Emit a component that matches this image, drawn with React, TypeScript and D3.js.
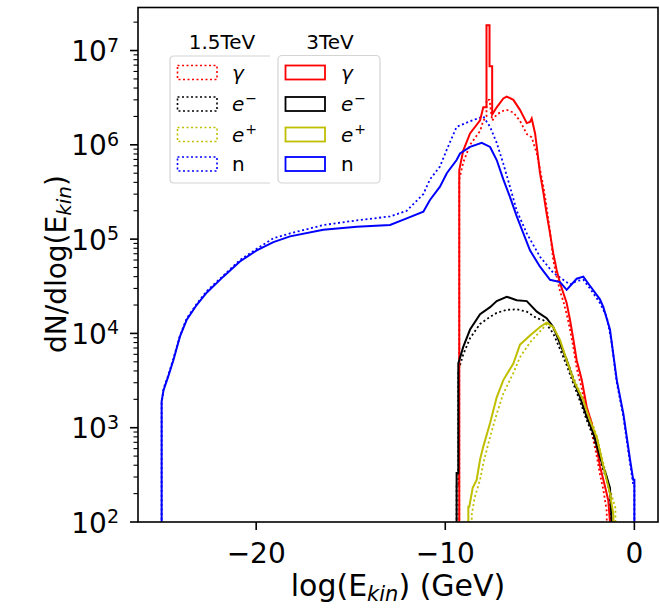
import React from 'react';
import * as d3 from 'd3';

type Pt = [number, number];

// ---- data (x = log(E_kin/GeV), y = dN/dlog(E_kin)) ----
const gamma3TeV: Pt[] = [
  [-9.26, 10], [-9.26, 5.4e5], [-9.05, 8.7e5], [-8.69, 1.32e6], [-8.16, 1.82e6], [-7.99, 2.5e6],
  [-7.82, 2.5e6], [-7.82, 1.85e7], [-7.66, 1.85e7], [-7.66, 6.8e6], [-7.52, 6.8e6], [-7.52, 2.1e6],
  [-7.28, 2.5e6], [-6.93, 3.1e6], [-6.75, 3.25e6], [-6.4, 3.0e6], [-6.05, 2.35e6], [-5.69, 1.7e6],
  [-5.52, 1.75e6], [-5.43, 1.9e6], [-5.25, 1.32e6], [-5.16, 9.5e5], [-4.99, 5.0e5], [-4.81, 3.1e5],
  [-4.64, 1.86e5], [-4.46, 1.15e5], [-4.29, 7.1e4], [-4.11, 4.7e4], [-3.93, 3.4e4], [-3.76, 2.7e4],
  [-3.58, 2.1e4], [-3.4, 1.38e4], [-3.22, 8500], [-3.05, 5200], [-2.78, 3200], [-2.52, 1660],
  [-2.26, 1120], [-1.99, 630], [-1.82, 390], [-1.64, 280], [-1.38, 170], [-1.29, 100], [-1.29, 10],
];
const gamma15TeV: Pt[] = [
  [-9.26, 10], [-9.26, 4.3e5], [-9.05, 6.5e5], [-8.69, 1.0e6], [-8.16, 1.4e6], [-7.99, 1.8e6],
  [-7.82, 2.0e6], [-7.82, 3.0e6], [-7.66, 3.0e6], [-7.52, 1.8e6], [-7.28, 2.1e6], [-6.93, 2.3e6],
  [-6.75, 2.35e6], [-6.4, 2.2e6], [-6.05, 1.8e6], [-5.69, 1.3e6], [-5.43, 1.2e6], [-5.16, 8.1e5],
  [-4.99, 5.5e5], [-4.81, 3.6e5], [-4.64, 2.2e5], [-4.46, 1.2e5], [-4.29, 6.0e4], [-4.11, 4.0e4],
  [-3.93, 2.8e4], [-3.76, 2.2e4], [-3.58, 1.6e4], [-3.4, 1.1e4], [-3.22, 7000], [-3.05, 4300],
  [-2.78, 2600], [-2.52, 1400], [-2.26, 900], [-1.99, 500], [-1.82, 320], [-1.64, 220],
  [-1.46, 130], [-1.46, 10],
];
const electron3TeV: Pt[] = [
  [-9.4, 10], [-9.4, 330], [-9.31, 330], [-9.31, 4800], [-9.05, 7200], [-8.69, 1.1e4], [-8.16, 1.6e4],
  [-7.63, 1.9e4], [-7.28, 2.2e4], [-6.75, 2.45e4], [-6.22, 2.25e4], [-5.69, 2.2e4], [-5.16, 1.7e4],
  [-4.64, 1.45e4], [-4.29, 1.17e4], [-3.93, 7800], [-3.58, 5200], [-3.22, 3200], [-2.87, 2100],
  [-2.52, 1300], [-2.17, 870], [-1.82, 490], [-1.46, 300], [-1.29, 230], [-1.2, 100], [-1.2, 10],
];
const electron15TeV: Pt[] = [
  [-9.4, 10], [-9.4, 250], [-9.31, 250], [-9.31, 4000], [-9.05, 6000], [-8.69, 8900], [-8.16, 1.26e4],
  [-7.63, 1.5e4], [-7.28, 1.65e4], [-6.75, 1.78e4], [-6.22, 1.8e4], [-5.69, 1.7e4], [-5.16, 1.45e4],
  [-4.81, 1.38e4], [-4.64, 1.25e4], [-4.29, 1.0e4], [-3.93, 6800], [-3.58, 4600], [-3.22, 2900],
  [-2.87, 1900], [-2.52, 1200], [-2.17, 800], [-1.82, 450], [-1.46, 280], [-1.29, 200], [-1.2, 10],
];
const positron3TeV: Pt[] = [
  [-8.78, 10], [-8.78, 145], [-8.73, 145], [-8.55, 230], [-8.34, 280], [-8.16, 460], [-7.99, 630],
  [-7.63, 1120], [-7.28, 2100], [-6.93, 3200], [-6.4, 4800], [-6.05, 7600], [-5.52, 9500],
  [-4.99, 1.17e4], [-4.64, 1.3e4], [-4.29, 1.17e4], [-3.93, 8500], [-3.58, 5200], [-3.22, 3200],
  [-2.7, 1950], [-2.35, 1200], [-1.99, 790], [-1.64, 390], [-1.29, 200], [-1.11, 120], [-1.11, 10],
];
const positron15TeV: Pt[] = [
  [-8.6, 10], [-8.6, 120], [-8.45, 180], [-8.16, 280], [-7.99, 420], [-7.63, 800], [-7.28, 1400],
  [-6.93, 2300], [-6.4, 3800], [-6.05, 5600], [-5.52, 8000], [-4.99, 1.05e4], [-4.64, 1.25e4],
  [-4.46, 1.2e4], [-4.29, 1.12e4], [-3.93, 8200], [-3.58, 5400], [-3.22, 3400], [-2.7, 2000],
  [-2.35, 1300], [-1.99, 820], [-1.64, 420], [-1.29, 220], [-1.0, 140], [-1.0, 10],
];
const neutron3TeV: Pt[] = [
  [-25.0, 10], [-25.0, 1900], [-24.9, 2500], [-24.65, 3500], [-24.38, 5200], [-24.03, 9300],
  [-23.67, 1.4e4], [-23.15, 2.0e4], [-22.62, 2.7e4], [-21.74, 4.0e4], [-20.86, 5.8e4], [-19.97, 7.6e4],
  [-19.09, 9.3e4], [-18.21, 1.07e5], [-16.45, 1.26e5], [-14.68, 1.35e5], [-12.92, 1.41e5],
  [-12.04, 1.66e5], [-11.16, 1.95e5], [-10.81, 2.6e5], [-10.28, 3.6e5], [-9.92, 5.0e5], [-9.4, 6.9e5],
  [-9.22, 8.1e5], [-8.69, 9.5e5], [-8.07, 1.05e6], [-7.63, 9.5e5], [-7.28, 6.9e5], [-6.93, 4.3e5],
  [-6.58, 2.8e5], [-6.22, 1.74e5], [-5.87, 1.15e5], [-5.52, 7.6e4], [-4.99, 5.1e4], [-4.46, 3.7e4],
  [-3.93, 3.5e4], [-3.58, 2.9e4], [-3.05, 3.8e4], [-2.7, 4.0e4], [-2.35, 3.2e4], [-1.82, 2.3e4],
  [-1.64, 1.9e4], [-1.29, 1.1e4], [-0.93, 3200], [-0.58, 1400], [-0.23, 460], [-0.06, 280],
  [0, 280], [0, 10],
];
const neutron15TeV: Pt[] = [
  [-25.0, 10], [-25.0, 1800], [-24.9, 2600], [-24.65, 3600], [-24.38, 5400], [-24.03, 9500],
  [-23.67, 1.45e4], [-23.15, 2.05e4], [-22.62, 2.8e4], [-21.74, 4.1e4], [-20.86, 6.0e4], [-19.97, 7.9e4],
  [-19.09, 1.02e5], [-18.21, 1.15e5], [-16.45, 1.41e5], [-14.68, 1.58e5], [-12.92, 1.74e5],
  [-12.04, 2.0e5], [-11.16, 3.0e5], [-10.81, 4.3e5], [-10.28, 5.9e5], [-9.92, 8.9e5], [-9.4, 1.55e6],
  [-8.69, 1.78e6], [-7.99, 2.0e6], [-7.63, 1.55e6], [-7.28, 1.05e6], [-6.93, 6.3e5], [-6.58, 3.6e5],
  [-6.22, 2.0e5], [-5.69, 1.15e5], [-4.99, 6.5e4], [-4.29, 4.4e4], [-3.76, 3.7e4], [-3.4, 3.3e4],
  [-3.05, 3.6e4], [-2.7, 3.7e4], [-2.35, 3.0e4], [-1.82, 2.1e4], [-1.46, 1.5e4], [-1.2, 8000],
  [-0.93, 3000], [-0.58, 1300], [-0.23, 420], [-0.06, 250], [0, 250], [0, 10],
];

const xTicks = [-20, -10, 0];
const xTickLabels = ['\u221220', '\u221210', '0'];
const yTickExps = [2, 3, 4, 5, 6, 7];
const legendLabels = ['gamma', 'eminus', 'eplus', 'n'];
const legendTitles = ['1.5TeV', '3TeV'];

const FONT = 'DejaVu Sans, Verdana, sans-serif';
const RED = '#ff0000';
const BLACK = '#000000';
const YELLOW = '#bfbf00';
const BLUE = '#0000ff';

const LEFT = 138, RIGHT = 658, TOP = 7.5, BOTTOM = 522;

function LegendLabel({ kind, x, y }: { kind: string; x: number; y: number }) {
  const fs = 20;
  if (kind === 'gamma') {
    return <text x={x} y={y} fontSize={fs} fontFamily={FONT} fontStyle="italic">γ</text>;
  }
  if (kind === 'n') {
    return <text x={x} y={y} fontSize={fs} fontFamily={FONT}>n</text>;
  }
  const sup = kind === 'eminus' ? '\u2212' : '+';
  return (
    <text x={x} y={y} fontSize={fs} fontFamily={FONT}>
      <tspan fontStyle="italic">e</tspan>
      <tspan fontSize={14} dy={-8} dx={1}>{sup}</tspan>
    </text>
  );
}

export default function App() {
  const x = d3.scaleLinear().domain([-26.25, 1.25]).range([LEFT, RIGHT]);
  const y = d3.scaleLog().domain([1e2, 2.86e7]).range([BOTTOM, TOP]);
  const line = d3.line<Pt>().x(d => x(d[0])).y(d => y(d[1]));

  const dotted = [
    { data: gamma15TeV, color: RED },
    { data: electron15TeV, color: BLACK },
    { data: positron15TeV, color: YELLOW },
    { data: neutron15TeV, color: BLUE },
  ];
  const solid = [
    { data: gamma3TeV, color: RED },
    { data: electron3TeV, color: BLACK },
    { data: positron3TeV, color: YELLOW },
    { data: neutron3TeV, color: BLUE },
  ];
  const colors = [RED, BLACK, YELLOW, BLUE];

  const minor: number[] = [];
  for (let e = 2; e <= 7; e++) {
    for (let m = 2; m <= 9; m++) {
      const v = m * Math.pow(10, e);
      if (v <= 2.86e7) minor.push(v);
    }
  }

  const rowY = [72.5, 104, 134.5, 164];
  const legends = [
    { x0: 170, x1: 270, handleX: 177.5, labelX: 232, title: legendTitles[0], titleX: 222, dash: '2,2.5', open: true },
    { x0: 278, x1: 380, handleX: 285.5, labelX: 341, title: legendTitles[1], titleX: 330, dash: undefined, open: false },
  ];

  return (
    <svg width={660} height={610} style={{ position: 'absolute', left: 0, top: 0, background: '#fff' }}>
      <defs>
        <clipPath id="plotclip">
          <rect x={LEFT} y={TOP} width={RIGHT - LEFT} height={BOTTOM - TOP} />
        </clipPath>
      </defs>
      <rect x={0} y={0} width={660} height={610} fill="#fff" />
      <g clipPath="url(#plotclip)">
        {dotted.map((s, i) => (
          <path key={'d' + i} d={line(s.data) || ''} fill="none" stroke={s.color}
            strokeWidth={1.8} strokeDasharray="2,2.6" />
        ))}
        {solid.map((s, i) => (
          <path key={'s' + i} d={line(s.data) || ''} fill="none" stroke={s.color}
            strokeWidth={2} strokeLinejoin="miter" />
        ))}
      </g>

      {/* legends */}
      {legends.map((L, li) => (
        <g key={'leg' + li}>
          <text x={L.titleX} y={49} fontSize={20} fontFamily={FONT} textAnchor="middle">{L.title}</text>
          {L.open ? (
            <path d={`M${L.x1},56 L${L.x0 + 4},56 Q${L.x0},56 ${L.x0},60 L${L.x0},179 Q${L.x0},183 ${L.x0 + 4},183 L${L.x1},183`}
              fill="rgba(255,255,255,0.8)" stroke="#d4d4d4" strokeWidth={1.2} />
          ) : (
            <rect x={L.x0} y={55.5} width={L.x1 - L.x0} height={127.5} rx={4} ry={4}
              fill="rgba(255,255,255,0.8)" stroke="#d4d4d4" strokeWidth={1.2} />
          )}
          {legendLabels.map((lab, i) => (
            <g key={lab}>
              <rect x={L.handleX} y={rowY[i] - 7} width={39.5} height={14} fill="none"
                stroke={colors[i]} strokeWidth={L.dash ? 1.6 : 1.8} strokeDasharray={L.dash} />
              <LegendLabel kind={lab} x={L.labelX} y={rowY[i] + 7} />
            </g>
          ))}
        </g>
      ))}

      {/* axes frame */}
      <rect x={LEFT} y={TOP} width={RIGHT - LEFT} height={BOTTOM - TOP} fill="none" stroke="#000" strokeWidth={1.6} />

      {/* x ticks */}
      {xTicks.map((t, i) => (
        <g key={'xt' + t}>
          <line x1={x(t)} x2={x(t)} y1={BOTTOM} y2={BOTTOM + 8} stroke="#000" strokeWidth={1.6} />
          <text x={x(t)} y={563} fontSize={28} fontFamily={FONT} textAnchor="middle">{xTickLabels[i]}</text>
        </g>
      ))}
      {/* y ticks */}
      {yTickExps.map(e => {
        const yy = y(Math.pow(10, e));
        return (
          <g key={'yt' + e}>
            <line x1={LEFT - 8} x2={LEFT} y1={yy} y2={yy} stroke="#000" strokeWidth={1.6} />
            <text x={119} y={yy + 10.5} fontSize={28} fontFamily={FONT} textAnchor="end">
              10<tspan fontSize={19} dy={-9.5}>{e}</tspan>
            </text>
          </g>
        );
      })}
      {minor.map(v => (
        <line key={'mt' + v} x1={LEFT - 4.5} x2={LEFT} y1={y(v)} y2={y(v)} stroke="#000" strokeWidth={1.1} />
      ))}

      {/* axis labels */}
      <text x={(LEFT + RIGHT) / 2} y={596} fontSize={30} fontFamily={FONT} textAnchor="middle">
        log(E<tspan fontSize={21} fontStyle="italic" dy={5}>kin</tspan><tspan dy={-5}>) (GeV)</tspan>
      </text>
      <text transform={`translate(66,264) rotate(-90)`} fontSize={28} fontFamily={FONT} textAnchor="middle">
        dN/dlog(E<tspan fontSize={20} fontStyle="italic" dy={5}>kin</tspan><tspan dy={-5}>)</tspan>
      </text>
    </svg>
  );
}
